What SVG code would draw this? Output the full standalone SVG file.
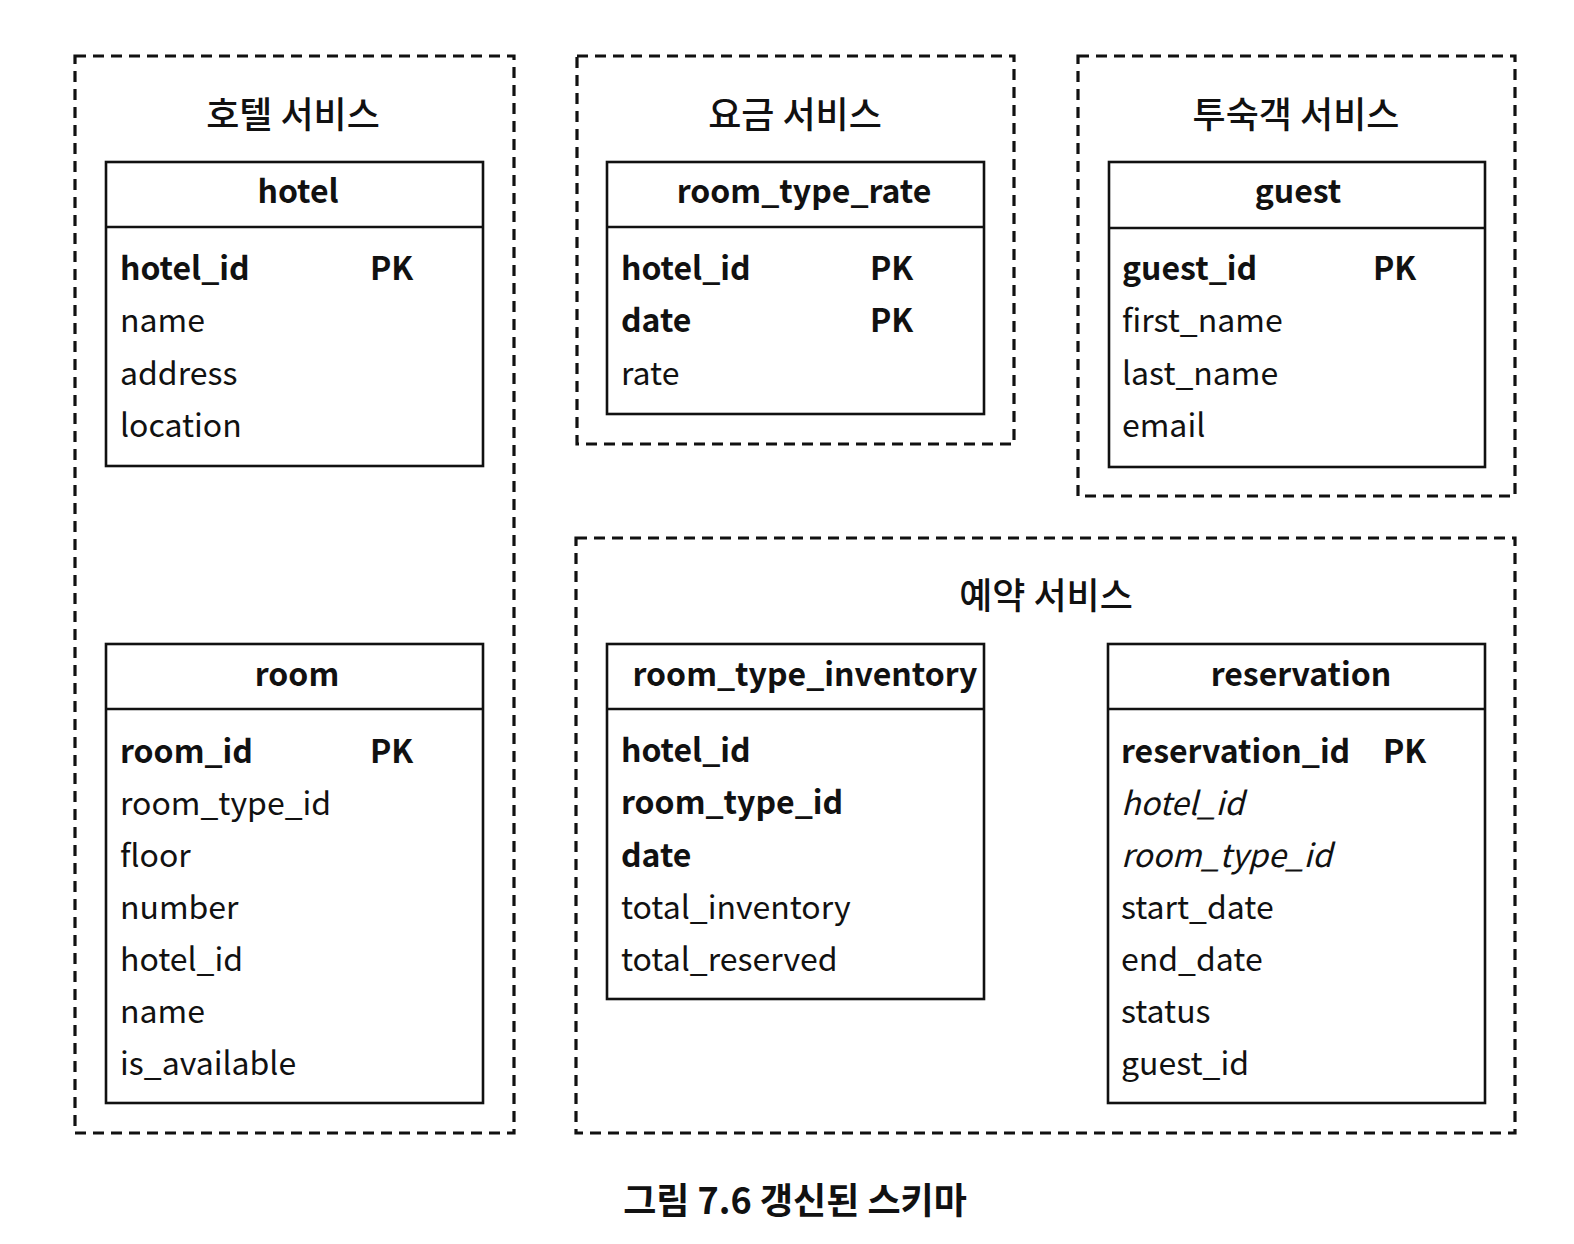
<svg xmlns="http://www.w3.org/2000/svg" width="1574" height="1244" viewBox="0 0 1574 1244">
<style>
text{font-family:"Noto Sans CJK KR","Noto Sans",sans-serif;fill:#111}
.svc{fill:none;stroke:#111;stroke-width:3.2;stroke-dasharray:11 7}
.tbl{fill:#fff;stroke:#111;stroke-width:2.6}
.sep{stroke:#111;stroke-width:2.6}
.title{font-size:36px;font-weight:500;text-anchor:middle}
.hdr{font-size:32px;font-weight:bold;text-anchor:middle}
.f{font-size:32px}
.b{font-weight:bold}
.i{font-style:italic}
.cap{font-size:36px;font-weight:bold;text-anchor:middle}
</style>
<rect width="1574" height="1244" fill="#fff"/>

<g id="hotel-service">
<rect class="svc" x="75" y="56" width="439" height="1077"/>
<text class="title" x="293" y="128">호텔 서비스</text>
</g>
<g id="rate-service">
<rect class="svc" x="577" y="56" width="437" height="388"/>
<text class="title" x="795" y="128">요금 서비스</text>
</g>
<g id="guest-service">
<rect class="svc" x="1078" y="56" width="437" height="440"/>
<text class="title" x="1296" y="128">투숙객 서비스</text>
</g>
<g id="reservation-service">
<rect class="svc" x="576" y="538" width="939" height="595"/>
<text class="title" x="1046" y="609">예약 서비스</text>
</g>

<g id="hotel">
<rect class="tbl" x="106" y="162" width="377" height="304"/>
<line class="sep" x1="106" y1="227" x2="483" y2="227"/>
<text class="hdr" x="298" y="203">hotel</text>
<text class="f b" x="120" y="280">hotel_id</text>
<text class="f b" x="370" y="280">PK</text>
<text class="f" x="120" y="332">name</text>
<text class="f" x="120" y="385">address</text>
<text class="f" x="120" y="437">location</text>
</g>

<g id="room">
<rect class="tbl" x="106" y="644" width="377" height="459"/>
<line class="sep" x1="106" y1="709" x2="483" y2="709"/>
<text class="hdr" x="297" y="686">room</text>
<text class="f b" x="120" y="763">room_id</text>
<text class="f b" x="370" y="763">PK</text>
<text class="f" x="120" y="815">room_type_id</text>
<text class="f" x="120" y="867">floor</text>
<text class="f" x="120" y="919">number</text>
<text class="f" x="120" y="971">hotel_id</text>
<text class="f" x="120" y="1023">name</text>
<text class="f" x="120" y="1075">is_available</text>
</g>

<g id="room_type_rate">
<rect class="tbl" x="607" y="162" width="377" height="252"/>
<line class="sep" x1="607" y1="227" x2="984" y2="227"/>
<text class="hdr" x="804" y="203">room_type_rate</text>
<text class="f b" x="621" y="280">hotel_id</text>
<text class="f b" x="870" y="280">PK</text>
<text class="f b" x="621" y="332">date</text>
<text class="f b" x="870" y="332">PK</text>
<text class="f" x="621" y="385">rate</text>
</g>

<g id="guest">
<rect class="tbl" x="1109" y="162" width="376" height="305"/>
<line class="sep" x1="1109" y1="228" x2="1485" y2="228"/>
<text class="hdr" x="1298" y="203">guest</text>
<text class="f b" x="1122" y="280">guest_id</text>
<text class="f b" x="1373" y="280">PK</text>
<text class="f" x="1122" y="332">first_name</text>
<text class="f" x="1122" y="385">last_name</text>
<text class="f" x="1122" y="437">email</text>
</g>

<g id="room_type_inventory">
<rect class="tbl" x="607" y="644" width="377" height="355"/>
<line class="sep" x1="607" y1="709" x2="984" y2="709"/>
<text class="hdr" x="805" y="686">room_type_inventory</text>
<text class="f b" x="621" y="762">hotel_id</text>
<text class="f b" x="621" y="814">room_type_id</text>
<text class="f b" x="621" y="867">date</text>
<text class="f" x="621" y="919">total_inventory</text>
<text class="f" x="621" y="971">total_reserved</text>
</g>

<g id="reservation">
<rect class="tbl" x="1108" y="644" width="377" height="459"/>
<line class="sep" x1="1108" y1="709" x2="1485" y2="709"/>
<text class="hdr" x="1301" y="686">reservation</text>
<text class="f b" x="1121" y="763">reservation_id</text>
<text class="f b" x="1383" y="763">PK</text>
<text class="f i" x="1121" y="815">hotel_id</text>
<text class="f i" x="1121" y="867">room_type_id</text>
<text class="f" x="1121" y="919">start_date</text>
<text class="f" x="1121" y="971">end_date</text>
<text class="f" x="1121" y="1023">status</text>
<text class="f" x="1121" y="1075">guest_id</text>
</g>

<g id="connectors"></g>

<text class="cap" x="795" y="1214">그림 7.6 갱신된 스키마</text>
</svg>
